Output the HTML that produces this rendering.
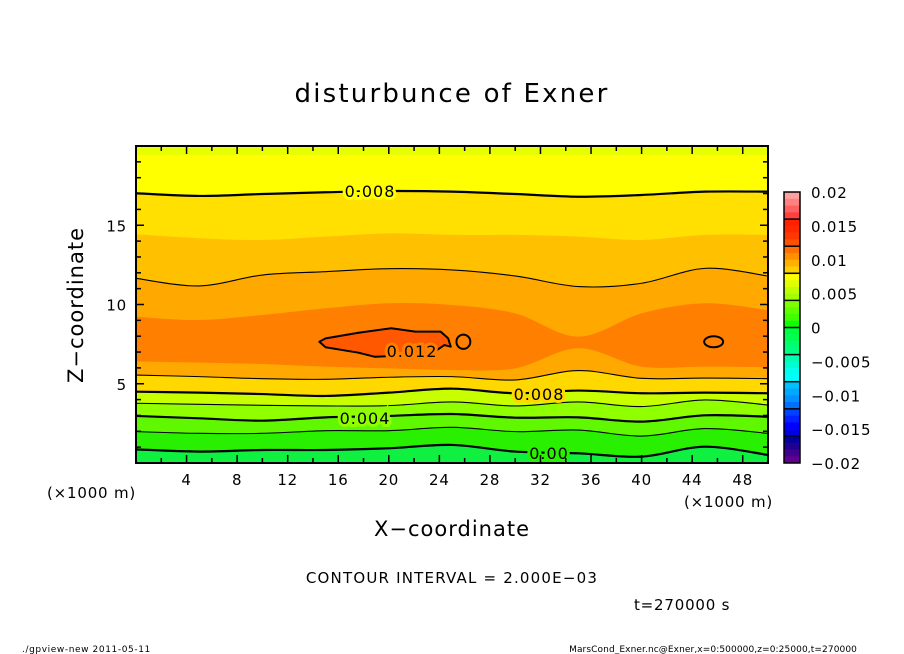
<!DOCTYPE html>
<html><head><meta charset="utf-8"><style>
body{margin:0;background:#fff;}
svg{display:block;font-family:"DejaVu Sans","Liberation Sans",sans-serif;}
</style></head><body>
<svg id="chart" width="904" height="654" viewBox="0 0 904 654">
<text x="452" y="102" font-size="26" letter-spacing="2.2" text-anchor="middle">disturbunce of Exner</text>
<g id="bands"></g>
<g id="lines"></g>
<g id="labels"></g>
<g id="axes"></g>
<g id="cbar"></g>
<text x="83" y="305" font-size="21" letter-spacing="1" text-anchor="middle" transform="rotate(-90 83 305)">Z−coordinate</text>
<text x="452" y="536" font-size="21" letter-spacing="1" text-anchor="middle">X−coordinate</text>
<text x="47" y="498" font-size="15" letter-spacing="0.8">(×1000 m)</text>
<text x="684" y="507" font-size="15" letter-spacing="0.8">(×1000 m)</text>
<text x="452" y="583" font-size="15" letter-spacing="1.2" text-anchor="middle">CONTOUR INTERVAL = 2.000E−03</text>
<text x="634" y="610" font-size="15" letter-spacing="0.8">t=270000 s</text>
<text x="22" y="652" font-size="9" letter-spacing="0.6">./gpview-new   2011-05-11</text>
<text x="857" y="652" font-size="9" letter-spacing="0.1" text-anchor="end">MarsCond_Exner.nc@Exner,x=0:500000,z=0:25000,t=270000</text>
</svg>
<script>
const xSamples=[0,5,10,15,20,25,30,35,40,45,50];
const L0=[0.86,0.72,0.82,0.82,0.93,1.14,0.72,0.61,0.40,1.03,0.51];
const L1=[1.98,1.87,1.87,2.04,2.04,2.25,1.98,2.08,1.70,2.17,1.87];
const L2=[2.97,2.82,2.67,2.88,2.97,3.09,2.86,2.88,2.61,3.01,2.92];
const L3=[3.77,3.70,3.64,3.60,3.62,3.85,3.60,3.85,3.56,3.98,3.66];
const L4=[4.50,4.44,4.35,4.23,4.44,4.69,4.40,4.57,4.40,4.44,4.40];
const L5=[5.55,5.45,5.32,5.28,5.41,5.45,5.24,5.83,5.34,5.36,5.32];
const Fc=[6.40,6.33,6.25,6.08,5.97,5.87,5.97,7.24,6.08,6.08,6.04];
const Fb=[9.23,9.02,9.34,9.76,10.08,9.97,9.44,7.97,9.44,10.08,9.65];
const L6=[11.65,11.17,11.86,12.07,12.26,12.18,11.80,11.13,11.34,12.28,11.80];
const Fa=[14.43,14.18,14.07,14.28,14.49,14.39,14.39,14.28,14.07,14.39,14.39];
const L7=[17.02,16.85,16.97,17.08,17.16,17.12,16.97,16.80,16.91,17.12,17.12];
const Ftop=[19.43,19.43,19.43,19.43,19.43,19.43,19.43,19.43,19.43,19.43,19.43];
const bandColors=["#10f040","#28f000","#60f800","#90ff00","#c8ff00","#ffd800","#ffa800","#ff8000","#ffa800","#ffc000","#ffe000","#ffff00","#e8ff00"];
const peakX=[14.5,15.0,17.6,20.2,22.1,24.1,24.7,24.9,24.4,23.4,21.5,18.9,17.6,15.0];
const peakZ=[7.65,7.86,8.22,8.50,8.29,8.29,7.86,7.34,7.44,6.91,6.80,6.70,6.96,7.30];
const smallLoops=[[25.9,7.65,0.55,0.45],[45.7,7.65,0.75,0.35]];
const xTicks=[4,8,12,16,20,24,28,32,36,40,44,48];
const yTicks=[5,10,15];
const cbTicks=["0.02","0.015","0.01","0.005","0","−0.005","−0.01","−0.015","−0.02"];
const cbColors=["#ffa0a0","#ff8080","#ff6060","#ff4040","#ff2000","#ff2800","#ff3800","#ff5000","#ff7000","#ff9000","#ffb000","#ffd000","#ffff00","#e0ff00","#c0ff00","#a0ff00","#80ff00","#60ff00","#40ff00","#10ff00","#00ff40","#00ff50","#00ff70","#00ff80","#00ffb0","#00ffd0","#00fff0","#00ffff","#00c0ff","#00a8ff","#0090ff","#0070ff","#0040ff","#0020ff","#0000ff","#0000e0","#0000a0","#200090","#400090","#600090"];

const NS="http://www.w3.org/2000/svg";
const X0=136,X1=768,Y0=463,Y1=146;
const xs=x=>X0+x*(X1-X0)/50;
const ys=z=>Y0-z*(Y0-Y1)/20;
function mk(tag,attrs,parent){const e=document.createElementNS(NS,tag);for(const k in attrs)e.setAttribute(k,attrs[k]);parent.appendChild(e);return e;}
function smoothPts(arr){const pts=xSamples.map((x,i)=>[xs(x),ys(arr[i])]);let d="M"+pts[0][0]+","+pts[0][1];
 for(let i=0;i<pts.length-1;i++){const p0=pts[Math.max(0,i-1)],p1=pts[i],p2=pts[i+1],p3=pts[Math.min(pts.length-1,i+2)];
 const c1=[p1[0]+(p2[0]-p0[0])/6,p1[1]+(p2[1]-p0[1])/6],c2=[p2[0]-(p3[0]-p1[0])/6,p2[1]-(p3[1]-p1[1])/6];
 d+=` C${c1[0]},${c1[1]} ${c2[0]},${c2[1]} ${p2[0]},${p2[1]}`;}return d;}
const bandsG=document.getElementById('bands');
const zero=xSamples.map(()=>0);
const bounds=[zero,L0,L1,L2,L3,L4,L5,Fc,Fb,L6,Fa,L7,Ftop];
for(let i=0;i<bounds.length;i++){
 const d=smoothPts(bounds[i])+` L${xs(50)},${Y1} L${xs(0)},${Y1} Z`;
 const p=mk('path',{d:d,fill:bandColors[i]},bandsG);
 
 
}
const peak=mk('path',{d:"M"+peakX.map((x,i)=>xs(x)+","+ys(peakZ[i])).join(" L")+"Z",fill:"#ff5800",stroke:"#000","stroke-width":2,"stroke-linejoin":"round"},bandsG);


const linesG=document.getElementById('lines');
const lineSets=[[L0,2.2],[L1,1.1],[L2,2.2],[L3,1.1],[L4,2.2],[L5,1.1],[L6,1.1],[L7,2.2]];
lineSets.forEach((ls,i)=>{const p=mk('path',{d:smoothPts(ls[0]),fill:"none",stroke:"#000","stroke-width":ls[1]},linesG);
 
 });
smallLoops.forEach((s,i)=>{const e=mk('ellipse',{cx:xs(s[0]),cy:ys(s[1]),rx:s[2]*12.64,ry:s[3]*15.85,fill:"none",stroke:"#000","stroke-width":2},linesG);
 
 });
const labG=document.getElementById('labels');
[["0.008",370,197,"#ffff00"],["0.012",412,357,"#ff8000"],["0.008",539,400,"#ffd800"],["0.004",365,424,"#90ff00"],["0.00",549,459,"#28f000"]].forEach((l,i)=>{
 const t=mk('text',{x:l[1],y:l[2],"font-size":16,"letter-spacing":1,"text-anchor":"middle",stroke:l[3],"stroke-width":6,"paint-order":"stroke"},labG);t.textContent=l[0];
 
 });
const ax=document.getElementById('axes');
const fr=mk('rect',{x:X0,y:Y1,width:X1-X0,height:Y0-Y1,fill:"none",stroke:"#000","stroke-width":2},ax);


for(let x=2;x<50;x+=2){const L=(x%4===0)?8:5;
 mk('line',{x1:xs(x),x2:xs(x),y1:Y0,y2:Y0-L,stroke:"#000","stroke-width":1.5},ax);
 mk('line',{x1:xs(x),x2:xs(x),y1:Y1,y2:Y1+L,stroke:"#000","stroke-width":1.5},ax);}
for(let z=1;z<20;z++){const L=(z%5===0)?8:5;
 mk('line',{x1:X0,x2:X0+L,y1:ys(z),y2:ys(z),stroke:"#000","stroke-width":1.5},ax);
 mk('line',{x1:X1,x2:X1-L,y1:ys(z),y2:ys(z),stroke:"#000","stroke-width":1.5},ax);}
xTicks.forEach(v=>{const t=mk('text',{x:xs(v),y:485,"font-size":15,"letter-spacing":0.8,"text-anchor":"middle"},ax);t.textContent=v;
 
 });
yTicks.forEach(v=>{const t=mk('text',{x:127,y:ys(v)+6,"font-size":15,"letter-spacing":0.8,"text-anchor":"end"},ax);t.textContent=v;
 
 });
const cb=document.getElementById('cbar');
const CT=192,CB=463,CX=784,CW=16,sub=(CB-CT)/cbColors.length;
cbColors.forEach((c,i)=>{const r=mk('rect',{x:CX,y:CT+i*sub,width:CW,height:sub+0.3,fill:c},cb);
 
 });
for(let g=1;g<10;g++)mk('line',{x1:CX,x2:CX+CW,y1:CT+g*sub*4,y2:CT+g*sub*4,stroke:"#000","stroke-width":1.5},cb);
mk('rect',{x:CX,y:CT,width:CW,height:CB-CT,fill:"none",stroke:"#000","stroke-width":1.5},cb);
cbTicks.forEach((s,i)=>{const t=mk('text',{x:811,y:CT+i*(CB-CT)/8+6,"font-size":15,"letter-spacing":0.8},cb);t.textContent=s;
 
 });
</script>
</body></html>
